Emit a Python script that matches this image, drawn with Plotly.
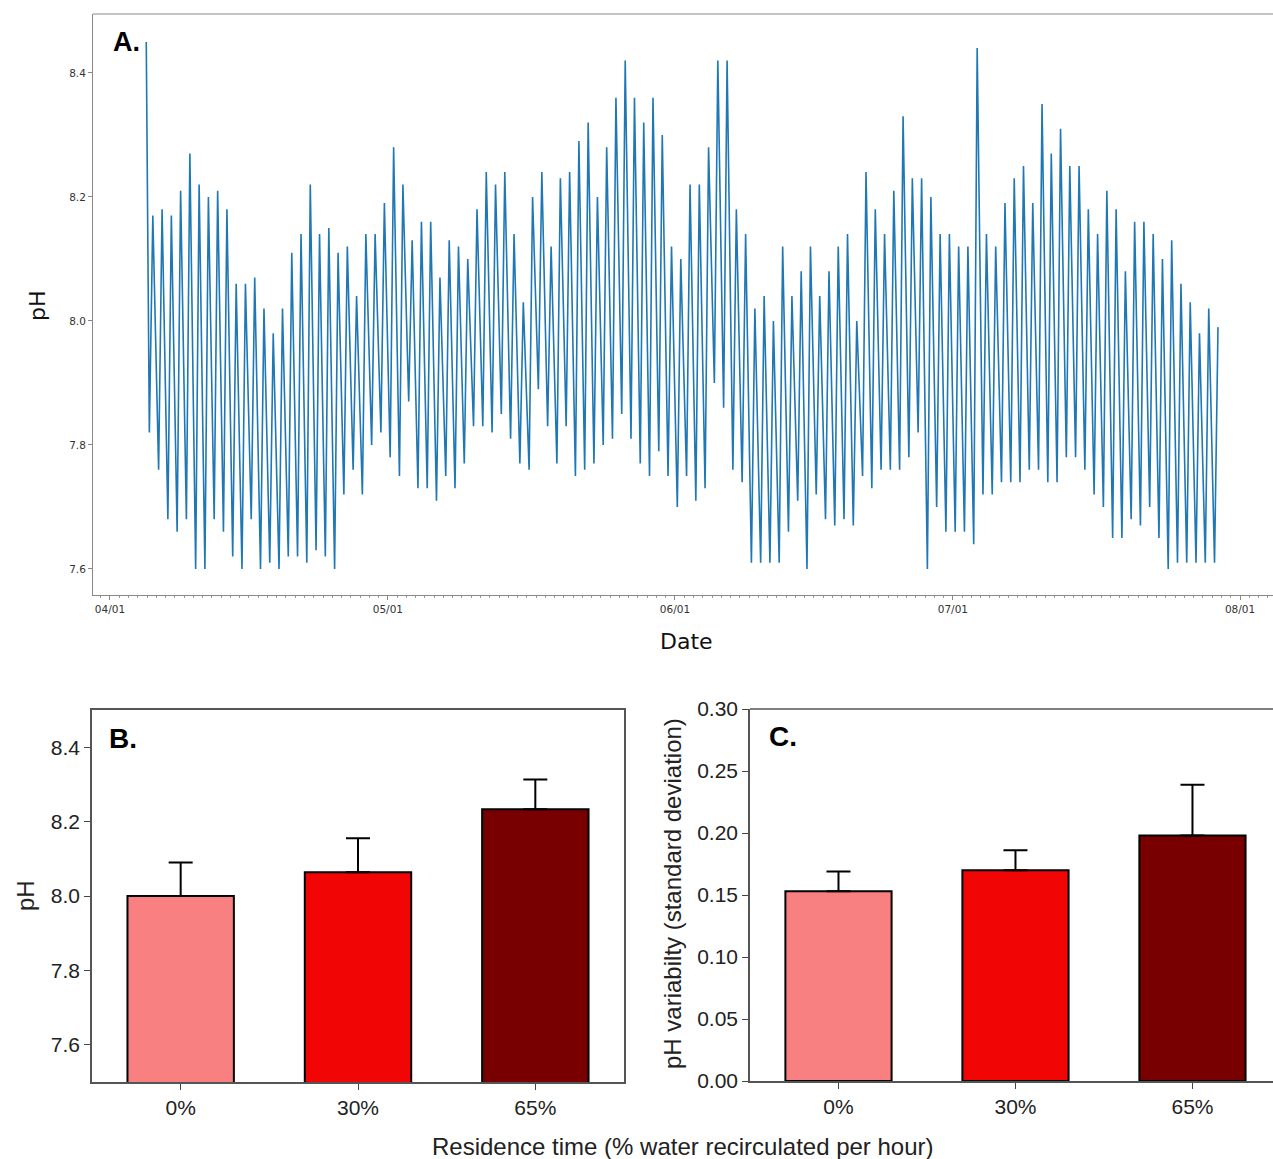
import pandas as pd
import plotly.graph_objects as go

# ---------------- Data ----------------
# Panel A: pH time series (read as daily maxima / minima from the picture)
first_day = "2021-04-05"
start_value = 8.45        # initial reading at deployment
first_trough = 7.82

daily_peaks = [
    8.17, 8.18, 8.17, 8.21, 8.27, 8.22, 8.20, 8.21, 8.18, 8.06,
    8.06, 8.07, 8.02, 7.98, 8.02, 8.11, 8.14, 8.22, 8.14, 8.15,
    8.11, 8.12, 8.04, 8.14, 8.14, 8.19, 8.28, 8.22, 8.13, 8.16,
    8.16, 8.07, 8.13, 8.12, 8.10, 8.18, 8.24, 8.22, 8.24, 8.14,
    8.03, 8.20, 8.24, 8.12, 8.23, 8.24, 8.29, 8.32, 8.20, 8.28,
    8.36, 8.42, 8.36, 8.32, 8.36, 8.30, 8.12, 8.10, 8.22, 8.22,
    8.28, 8.42, 8.42, 8.18, 8.14, 8.02, 8.04, 8.00, 8.12, 8.04,
    8.08, 8.12, 8.04, 8.08, 8.12, 8.14, 8.00, 8.24, 8.18, 8.14,
    8.21, 8.33, 8.23, 8.23, 8.20, 8.14, 8.14, 8.12, 8.12, 8.44,
    8.14, 8.12, 8.19, 8.23, 8.25, 8.19, 8.35, 8.27, 8.31, 8.25,
    8.25, 8.18, 8.14, 8.21, 8.18, 8.08, 8.16, 8.16, 8.14, 8.10,
    8.13, 8.06, 8.03, 7.98, 8.02, 7.99,
]

daily_troughs = [
    7.76, 7.68, 7.66, 7.68, 7.60, 7.60, 7.68, 7.66, 7.62, 7.60,
    7.68, 7.60, 7.61, 7.60, 7.62, 7.62, 7.61, 7.63, 7.62, 7.60,
    7.72, 7.76, 7.72, 7.80, 7.82, 7.78, 7.75, 7.87, 7.73, 7.73,
    7.71, 7.75, 7.73, 7.77, 7.83, 7.83, 7.82, 7.85, 7.81, 7.77,
    7.76, 7.89, 7.83, 7.77, 7.83, 7.75, 7.76, 7.77, 7.80, 7.81,
    7.85, 7.81, 7.77, 7.75, 7.79, 7.75, 7.70, 7.75, 7.71, 7.73,
    7.90, 7.86, 7.76, 7.74, 7.61, 7.61, 7.61, 7.61, 7.66, 7.71,
    7.60, 7.72, 7.68, 7.67, 7.68, 7.67, 7.75, 7.73, 7.76, 7.76,
    7.76, 7.78, 7.82, 7.60, 7.70, 7.66, 7.66, 7.66, 7.64, 7.72,
    7.72, 7.74, 7.74, 7.74, 7.76, 7.76, 7.74, 7.74, 7.78, 7.78,
    7.76, 7.72, 7.70, 7.65, 7.65, 7.68, 7.67, 7.70, 7.65, 7.60,
    7.61, 7.61, 7.61, 7.61, 7.61,
]

# Panels B and C
categories = ["0%", "30%", "65%"]
mean_ph = [8.00, 8.064, 8.233]
mean_ph_err = [0.09, 0.091, 0.08]
ph_sd = [0.153, 0.170, 0.198]
ph_sd_err = [0.016, 0.016, 0.041]
bar_colors = ["#F88080", "#F20505", "#780000"]

# ---------------- Build time series ----------------
t0 = pd.Timestamp(first_day)
days = pd.date_range(first_day, periods=len(daily_peaks), freq="D")
times = [t0 - pd.Timedelta(hours=2), t0 + pd.Timedelta(hours=6)]
values = [start_value, first_trough]
for i, d in enumerate(days):
    times.append(d + pd.Timedelta(hours=15))
    values.append(daily_peaks[i])
    if i < len(daily_troughs):
        times.append(d + pd.Timedelta(hours=30))
        values.append(daily_troughs[i])

W, H = 1273, 1159


def px(x):
    return x / W


def py(y):
    return 1 - y / H


fig = go.Figure()

fig.add_trace(go.Scatter(x=times, y=values, mode="lines",
                         line=dict(color="#1f77b4", width=1.6),
                         xaxis="x", yaxis="y", showlegend=False))

fig.add_trace(go.Bar(x=categories, y=mean_ph, width=0.6,
                     marker=dict(color=bar_colors, line=dict(color="black", width=2)),
                     error_y=dict(type="data", symmetric=False, array=mean_ph_err,
                                  arrayminus=[0, 0, 0], color="black", thickness=2, width=12),
                     xaxis="x2", yaxis="y2", showlegend=False))

fig.add_trace(go.Bar(x=categories, y=ph_sd, width=0.6,
                     marker=dict(color=bar_colors, line=dict(color="black", width=2)),
                     error_y=dict(type="data", symmetric=False, array=ph_sd_err,
                                  arrayminus=[0, 0, 0], color="black", thickness=2, width=12),
                     xaxis="x3", yaxis="y3", showlegend=False))

mpl_font = "DejaVu Sans"
sp_font = "Liberation Sans, Arial"
tick_sz = 21

fig.update_layout(
    width=W, height=H, autosize=False,
    margin=dict(l=0, r=0, t=0, b=0, pad=0),
    paper_bgcolor="white", plot_bgcolor="white",
    font=dict(family=sp_font, color="#222"),
    xaxis=dict(domain=[px(93), 1.0], anchor="y", type="date", automargin=False,
               range=["2021-03-30 04:00", "2021-08-04 13:30"],
               dtick="M1", tick0="2021-04-01", tickformat="%m/%d",
               ticks="outside", ticklen=4, tickcolor="#888",
               showline=True, linecolor="#888", linewidth=1,
               showgrid=False, zeroline=False,
               tickfont=dict(family=mpl_font, size=10.5, color="#333"),
               minor=dict(dtick=86400000, ticks="outside", ticklen=2, tickcolor="#999", showgrid=False)),
    yaxis=dict(domain=[py(595), py(14)], anchor="x", automargin=False,
               range=[7.558, 8.495],
               tickvals=[7.6, 7.8, 8.0, 8.2, 8.4], ticktext=["7.6", "7.8", "8.0", "8.2", "8.4"],
               ticks="outside", ticklen=4, tickcolor="#888",
               showline=True, linecolor="#888", linewidth=1,
               showgrid=False, zeroline=False,
               tickfont=dict(family=mpl_font, size=10.5, color="#333")),
    xaxis2=dict(domain=[px(92), px(624)], anchor="y2", type="category", automargin=False,
                range=[-0.5, 2.5], ticks="outside", ticklen=6, tickcolor="#444",
                showline=True, mirror=True, linecolor="#555", linewidth=1.5,
                showgrid=False, zeroline=False,
                tickfont=dict(size=tick_sz, color="#222")),
    yaxis2=dict(domain=[py(1082), py(710)], anchor="x2", automargin=False,
                range=[7.5, 8.5],
                tickvals=[7.6, 7.8, 8.0, 8.2, 8.4], ticktext=["7.6", "7.8", "8.0", "8.2", "8.4"],
                ticks="outside", ticklen=6, tickcolor="#444",
                showline=True, mirror=True, linecolor="#555", linewidth=1.5,
                showgrid=False, zeroline=False,
                tickfont=dict(size=tick_sz, color="#222")),
    xaxis3=dict(domain=[px(750), 1.0], anchor="y3", type="category", automargin=False,
                range=[-0.5, 2.455], ticks="outside", ticklen=6, tickcolor="#444",
                showline=True, linecolor="#555", linewidth=1.5,
                showgrid=False, zeroline=False,
                tickfont=dict(size=tick_sz, color="#222")),
    yaxis3=dict(domain=[py(1081), py(709)], anchor="x3", automargin=False,
                range=[0, 0.30],
                tickvals=[0, 0.05, 0.10, 0.15, 0.20, 0.25, 0.30],
                ticktext=["0.00", "0.05", "0.10", "0.15", "0.20", "0.25", "0.30"],
                ticks="outside", ticklen=6, tickcolor="#444",
                showline=True, linecolor="#555", linewidth=1.5,
                showgrid=False, zeroline=False,
                tickfont=dict(size=tick_sz, color="#222")),
    shapes=[
        dict(type="line", xref="x domain", yref="y domain", x0=0, x1=1, y0=1, y1=1,
             line=dict(color="#888", width=1)),
        dict(type="line", xref="x3 domain", yref="y3 domain", x0=0, x1=1, y0=1, y1=1,
             line=dict(color="#555", width=1.5)),
    ],
)

ann = [
    dict(text="<b>A.</b>", x=px(111), y=py(42), xanchor="left", yanchor="middle",
         font=dict(family=sp_font, size=27, color="black")),
    dict(text="<b>B.</b>", x=px(107), y=py(738), xanchor="left", yanchor="middle",
         font=dict(family=sp_font, size=28, color="black")),
    dict(text="<b>C.</b>", x=px(767), y=py(736), xanchor="left", yanchor="middle",
         font=dict(family=sp_font, size=28, color="black")),
    dict(text="pH", x=px(37), y=py(306), textangle=-90, xanchor="center", yanchor="middle",
         font=dict(family=mpl_font, size=22, color="#111")),
    dict(text="Date", x=px(686), y=py(641), xanchor="center", yanchor="middle",
         font=dict(family=mpl_font, size=22, color="#111")),
    dict(text="pH", x=px(25), y=py(896), textangle=-90, xanchor="center", yanchor="middle",
         font=dict(family=sp_font, size=24, color="#222")),
    dict(text="pH variabilty (standard deviation)", x=px(672), y=py(894), textangle=-90,
         xanchor="center", yanchor="middle", font=dict(family=sp_font, size=24, color="#222")),
    dict(text="Residence time (% water recirculated per hour)", x=px(683), y=py(1146),
         xanchor="center", yanchor="middle", font=dict(family=sp_font, size=24, color="#222")),
]
for a in ann:
    a.update(xref="paper", yref="paper", showarrow=False)
fig.update_layout(annotations=ann)

post = ("document.body.style.margin='0';document.body.style.overflow='hidden';"
        "var d=document.getElementById('{plot_id}');"
        "d.style.position='fixed';d.style.left='0px';d.style.top='0px';")

fig.write_html("out.html", config={"displayModeBar": False}, post_script=post)
